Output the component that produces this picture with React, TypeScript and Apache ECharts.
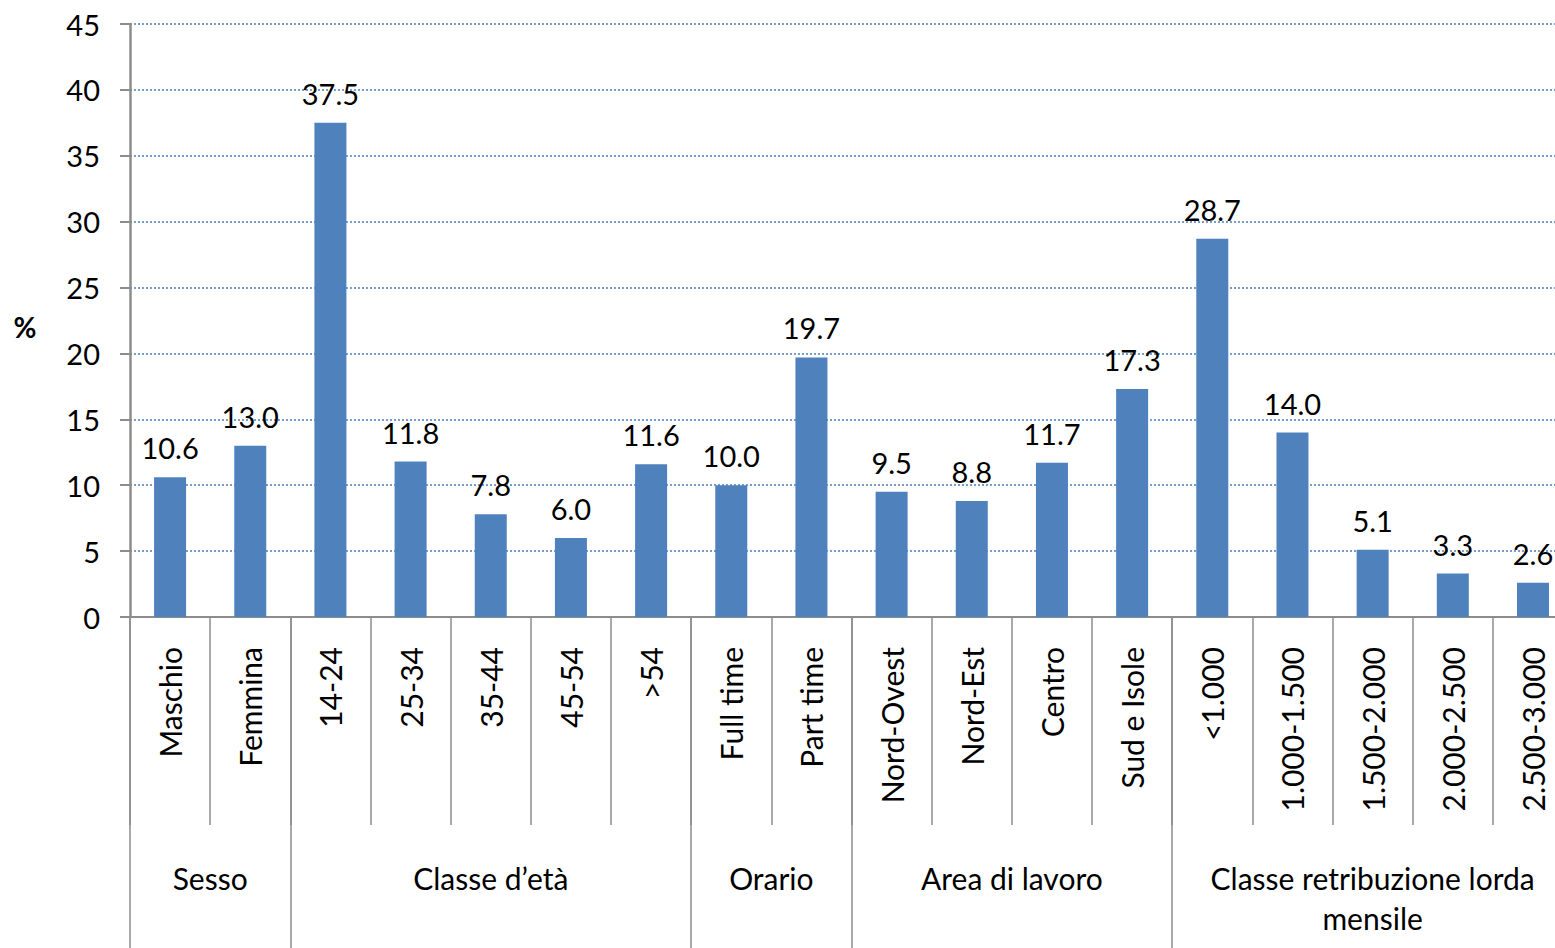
import React, { useEffect, useRef } from "react";
import * as echarts from "echarts";

const categories = [
  "Maschio", "Femmina",
  "14-24", "25-34", "35-44", "45-54", ">54",
  "Full time", "Part time",
  "Nord-Ovest", "Nord-Est", "Centro", "Sud e Isole",
  "<1.000", "1.000-1.500", "1.500-2.000", "2.000-2.500", "2.500-3.000",
];
const values = [10.6, 13.0, 37.5, 11.8, 7.8, 6.0, 11.6, 10.0, 19.7, 9.5, 8.8, 11.7, 17.3, 28.7, 14.0, 5.1, 3.3, 2.6];
const groupNames = ["Sesso", "Classe d’età", "Orario", "Area di lavoro", "Classe retribuzione lorda\nmensile"];
const groupStarts = [0, 2, 7, 9, 13];
const groupEnds = [1, 6, 8, 12, 17];
const yTicks = [0, 5, 10, 15, 20, 25, 30, 35, 40, 45];

const FONT = "Lato, 'Open Sans', sans-serif";
const GRID_LEFT = 130;
const GRID_TOP = 24;
const GRID_H = 593;
const CAT_W = 80.17;
const INNER_W = Math.ceil(GRID_LEFT + CAT_W * categories.length) + 2;

export default function App() {
  const ref = useRef<HTMLDivElement>(null);
  useEffect(() => {
    if (!ref.current) return;
    const chart = echarts.init(ref.current, undefined, { renderer: "svg" });
    const option: any = {
      animation: false,
      grid: { left: GRID_LEFT, top: GRID_TOP, width: CAT_W * categories.length, height: GRID_H, containLabel: false },
      xAxis: [
        {
          type: "category",
          data: categories,
          axisLine: { show: true, lineStyle: { color: "#8c8c8c", width: 2 } },
          axisTick: { show: true, interval: 0, alignWithLabel: false, length: 208, lineStyle: { color: "#8c8c8c", width: 1.5 } },
          axisLabel: { interval: 0, rotate: 90, margin: 30, color: "#000", fontFamily: FONT, fontSize: 30 },
          splitLine: { show: false },
        },
        {
          type: "category",
          data: categories,
          position: "bottom",
          axisLine: { show: false },
          axisTick: {
            show: true,
            alignWithLabel: false,
            interval: (i: number) => groupStarts.includes(i),
            length: 331,
            lineStyle: { color: "#8c8c8c", width: 1.5 },
          },
          axisLabel: { show: false },
          splitLine: { show: false },
        },
      ],
      yAxis: {
        type: "value",
        min: 0,
        max: 45,
        interval: 5,
        axisLine: { show: true, lineStyle: { color: "#8c8c8c", width: 2.5 } },
        axisTick: { show: true, length: 10, lineStyle: { color: "#8c8c8c", width: 2 } },
        axisLabel: { margin: 30, color: "#000", fontFamily: FONT, fontSize: 29, formatter: (v: number) => (yTicks.includes(v) ? String(v) : "") },
        splitLine: { show: true, lineStyle: { color: "#4a7ebb", type: [2, 2], width: 1.5 } },
      },
      series: [
        {
          type: "bar",
          data: values,
          barWidth: 32,
          itemStyle: { color: "#4f81bd" },
          label: {
            show: true,
            position: "top",
            distance: 15,
            color: "#000",
            fontFamily: FONT,
            fontSize: 29,
            formatter: (p: any) => p.value.toFixed(1),
          },
        },
      ],
    };
    chart.setOption(option);

    const texts: any[] = groupNames.map((name, g) => {
      const x1 = chart.convertToPixel({ xAxisIndex: 0 }, categories[groupStarts[g]]) as number;
      const x2 = chart.convertToPixel({ xAxisIndex: 0 }, categories[groupEnds[g]]) as number;
      return {
        type: "text",
        x: (x1 + x2) / 2,
        y: GRID_TOP + GRID_H + 241,
        style: {
          text: name,
          align: "center",
          verticalAlign: "top",
          fill: "#000",
          font: `30px ${FONT}`,
          lineHeight: 40,
        },
      };
    });
    texts.push({
      type: "text",
      x: 25,
      y: 327,
      style: { text: "%", align: "center", verticalAlign: "middle", fill: "#000", font: `bold 28px ${FONT}` },
    });
    chart.setOption({ graphic: texts });

    return () => chart.dispose();
  }, []);
  return (
    <div style={{ position: "absolute", left: 0, top: 0, width: 1555, height: 948, overflow: "hidden" }}>
      <div ref={ref} style={{ width: INNER_W, height: 948 }} />
    </div>
  );
}
